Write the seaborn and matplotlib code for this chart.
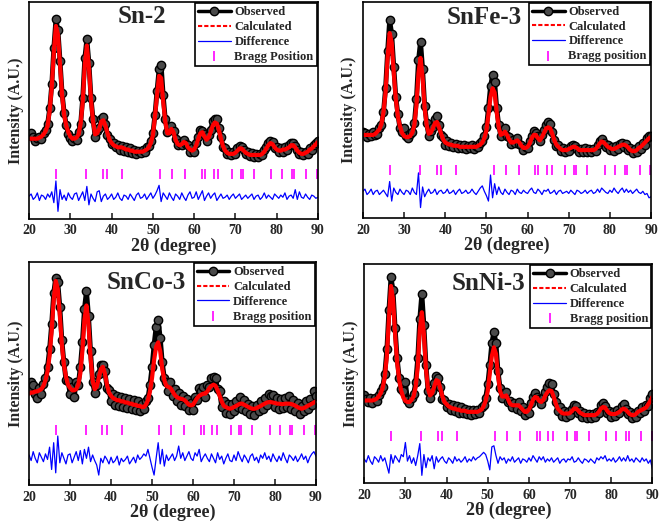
import numpy as np
import pandas as pd
import seaborn as sns
import matplotlib.pyplot as plt

# 2-theta sampling of the digitised patterns (degree)
two_theta = np.arange(20, 90.01, 0.5)

# Sn-2 (intensities in arbitrary units, 0-100 of the panel height)
sn2_obs = [38.5, 39.5, 38, 36, 37.5, 38, 37, 39.5, 41, 44,
           51, 62, 79, 92, 87, 73, 58, 49, 43.5, 39,
           37.5, 36, 37.5, 36.5, 40, 44, 56, 74, 83, 72,
           56, 46, 38, 40.5, 42, 46, 47, 44, 38.5, 37,
           34.5, 35, 33, 34, 32, 33.5, 31.5, 33, 31, 32.5,
           30.5, 32, 30, 31.5, 30.5, 32, 31, 33, 33.5, 36,
           39.5, 48, 59, 69, 71, 57, 46, 40, 41, 43,
           40.5, 37, 34, 35, 34, 36.5, 34.5, 34, 31, 32.5,
           31, 35, 38, 41, 40.5, 39, 36, 38.5, 41, 45,
           46, 46, 42, 38, 33, 32.5, 30, 31, 29.5, 31,
           30, 32.5, 33.5, 33, 32, 30, 31, 29, 30.5, 28.5,
           30, 28.5, 30, 29.5, 32, 33, 35, 36, 35.5, 32.5,
           33, 31, 32.5, 31, 33, 32, 34, 35, 35, 33.5,
           32, 30, 31, 29.5, 31, 30, 32.5, 32, 34, 35,
           36]
sn2_calc = [37, 37, 37, 37, 37, 37.5, 38, 39, 40.5, 43,
            50, 61, 77, 89, 85, 71, 57, 48, 43, 40,
            38, 37, 37, 37.5, 39, 44, 54, 71, 80, 70,
            55, 45, 39, 39.5, 41.5, 45, 45.5, 43, 39.5, 36.5,
            35, 34, 33.5, 33, 33, 33, 32.5, 32, 32, 31.5,
            31.5, 31, 31, 31, 31, 31, 31.5, 32, 33, 35,
            38.5, 47, 57, 66, 65, 54, 45, 39.5, 39.5, 41.5,
            40, 36.5, 34.5, 34, 34.5, 35.5, 35, 33, 32, 31.5,
            32, 34, 37, 39.5, 40, 38, 36.5, 37.5, 40, 43,
            44.5, 44, 41, 37, 33.5, 31.5, 30.5, 30, 30, 30,
            30.5, 31.5, 32.5, 32.5, 31.5, 30.5, 30, 29.5, 29.5, 29.5,
            29.5, 29.5, 29.5, 30, 31, 32.5, 34, 35, 34.5, 33,
            32, 31.5, 31.5, 32, 32, 32.5, 33, 34, 34, 33,
            31.5, 30.5, 30, 30, 30.5, 31, 32, 32.5, 33.5, 34.5,
            35.5]
sn2_diff = [10.5, 11.5, 9, 10, 12, 8.5, 11, 10.5, 9, 11.5,
            10, 12.5, 7.5, 17.5, 3.5, 13.5, 9, 11, 8.5, 12,
            10, 9, 11.5, 12, 8.5, 10.5, 12.5, 8.5, 15, 6.5,
            11.5, 9.5, 8, 12.5, 13, 8, 10.5, 11.5, 9, 10,
            11.5, 9, 10, 12, 9.5, 8.5, 11, 10.5, 9, 11.5,
            10, 8.5, 11, 12, 9.5, 10, 11.5, 9, 10.5, 12,
            9.5, 11, 13, 15.5, 8, 12, 10.5, 9, 12, 10,
            8.5, 11.5, 10.5, 9, 12, 10, 8.5, 11, 12.5, 9.5,
            10, 12.5, 9, 11, 13, 8.5, 10.5, 12, 9.5, 11,
            12, 8.5, 10, 11.5, 9.5, 10, 11, 9, 10.5, 11.5,
            9.5, 10.5, 11.5, 9, 10, 11, 9.5, 10.5, 11.5, 9,
            10.5, 11, 9, 10, 12, 9.5, 11, 10, 9, 11.5,
            10.5, 9.5, 11, 10, 12, 9, 10.5, 11, 9.5, 13.5,
            9, 12.5, 10, 9.5, 11.5, 10, 9, 11, 10.5, 9.5,
            10]

# SnFe-3
snfe3_obs = [40, 39.5, 37.5, 39, 38, 40, 38.5, 39, 41.5, 43,
             49, 60, 77, 91.5, 85, 70, 56, 48, 41.5, 40,
             41.5, 38, 37, 39, 40, 44, 55, 73, 81.5, 69,
             52, 44, 38, 40.5, 42, 46, 47, 43, 38.5, 37.5,
             34, 35.5, 33.5, 35, 33, 34.5, 32.5, 34, 32.5, 34,
             32, 33.5, 32.5, 34, 32, 33.5, 33, 35, 35.5, 38,
             42, 51, 61, 66, 63, 51, 43, 38, 40, 41.5,
             38, 37.5, 34.5, 36, 35, 37, 34.5, 34, 31.5, 33,
             32.5, 35.5, 38, 40.5, 39.5, 38, 35.5, 38.5, 41, 43,
             44.5, 43.5, 40, 36, 33.5, 34, 31, 32.5, 30.5, 32,
             31, 33.5, 34, 33.5, 32, 30.5, 32, 30.5, 32.5, 30.5,
             32, 30.5, 32, 31, 34, 35.5, 36.5, 35, 33, 34,
             31.5, 33, 31, 33.5, 32, 34.5, 35, 33, 34.5, 31.5,
             32.5, 30, 32, 30.5, 33.5, 32, 35, 34, 37, 38,
             38]
snfe3_calc = [38.5, 38.5, 38.5, 38.5, 38.5, 38.5, 39, 40, 41, 43.5,
              49, 58, 74, 85.5, 81, 67, 55, 47, 42.5, 39.5,
              38, 37.5, 37.5, 38, 39.5, 43, 52, 67, 74, 65,
              51, 43, 39, 39.5, 41.5, 44, 44.5, 42, 39, 36.5,
              35, 34.5, 34, 34, 33.5, 33.5, 33.5, 33, 33, 33,
              33, 33, 33, 33, 33, 33, 33.5, 34, 35, 37,
              40.5, 48, 56, 60, 58, 49, 42, 38.5, 39, 40,
              38.5, 36.5, 35, 35, 35.5, 36, 35, 33.5, 32.5, 32.5,
              33, 34.5, 37, 38.5, 38.5, 37, 36, 37.5, 39.5, 41.5,
              42, 41.5, 39, 36, 34, 33, 32, 31.5, 31.5, 31.5,
              32, 32.5, 33, 33, 32.5, 31.5, 31.5, 31.5, 31.5, 31.5,
              31.5, 31.5, 31.5, 32, 33, 34.5, 35.5, 35, 34, 33,
              32.5, 32, 32, 32.5, 33, 33.5, 34, 34, 33.5, 32.5,
              31.5, 31, 31, 31.5, 32.5, 33, 34, 35, 36, 37,
              37.5]
snfe3_diff = [12.5, 13.5, 11, 12, 13.5, 11, 12.5, 13, 11, 12,
              13, 11.5, 10, 17, 8, 14, 12, 11, 13.5, 12,
              11, 13, 12.5, 11, 14, 12, 11, 21, 5, 14.5,
              10, 12, 13.5, 11.5, 12, 13.5, 11, 12.5, 13, 11.5,
              12, 13.5, 11.5, 12, 13, 11, 12.5, 13.5, 11.5, 12,
              13, 11.5, 12, 13.5, 12, 11, 12.5, 14, 15, 12.5,
              10.5, 8, 20, 9.5, 16, 11, 14.5, 12, 11, 13.5,
              12, 11, 13, 12.5, 11, 13.5, 12, 11.5, 13, 12,
              11.5, 13, 14, 12, 11.5, 13.5, 12.5, 11, 13, 12.5,
              13.5, 11.5, 12, 13, 11, 12.5, 13, 11.5, 12, 12.5,
              11.5, 13, 12, 11, 13, 12.5, 11.5, 12, 13, 11.5,
              12.5, 13, 11.5, 12, 13.5, 12, 14, 13, 12, 11.5,
              13, 12, 14, 12.5, 11.5, 13, 14, 12, 13.5, 12,
              13, 11.5, 12.5, 13.5, 12, 11.5, 12.5, 11, 11.5, 9.5,
              10]

# SnCo-3
snco3_obs = [44, 46, 45, 41, 39, 43.5, 41, 45.5, 48, 53,
             61, 72, 86, 93, 91, 80, 65, 55, 47, 46.5,
             41, 44, 39.5, 46, 45, 53, 64, 79, 87, 76,
             60, 46, 41.5, 45, 50, 54, 54, 51, 43.5, 42.5,
             37.5, 41, 36, 40, 35.5, 39.5, 35, 39, 34.5, 38.5,
             34, 38, 33.5, 37.5, 33, 36.5, 34, 37.5, 39, 45,
             53, 63, 71, 74, 66, 55, 48, 46, 42, 46,
             40, 43, 37.5, 41.5, 36, 40, 35.5, 38.5, 33.5, 37,
             33.5, 39.5, 38, 43.5, 42, 44, 39.5, 45, 44, 48,
             48.5, 48, 43, 42, 35, 37.5, 32.5, 36.5, 32, 36.5,
             33, 37.5, 35, 39.5, 34, 38, 33, 36.5, 32, 35.5,
             31.5, 36, 33, 37.5, 34, 39, 36, 41, 40, 40.5,
             35, 39, 34, 38.5, 34.5, 39, 35, 40, 34, 38,
             33, 37, 32, 35.5, 33, 37.5, 34, 38.5, 36, 42,
             40]
snco3_calc = [41, 41.5, 41.5, 42, 42, 42.5, 43, 44.5, 47, 51,
              58, 69, 83, 91.5, 88, 76, 63, 54, 48.5, 45,
              43.5, 42.5, 42.5, 43, 45, 50, 60, 74, 80.5, 72,
              57, 47, 43, 44, 48, 52, 53, 50, 45, 41.5,
              40, 39, 38.5, 38, 38, 37.5, 37.5, 37, 37, 36.5,
              36.5, 36, 36, 35.5, 35.5, 35, 35, 36, 38, 42,
              48, 56, 62, 64, 60, 52, 47, 44.5, 44, 43.5,
              42, 40.5, 39.5, 39, 38.7, 38.5, 38, 37, 36, 35.7,
              36, 37.5, 39, 40, 40.5, 41, 41, 42, 43.5, 44.5,
              45, 44.5, 42.5, 40, 37.5, 35.5, 35, 34.5, 34.2, 34.5,
              35, 35.5, 36, 36.5, 36.5, 36, 35.5, 35, 34.5, 34.2,
              34.2, 34.5, 35, 35.5, 36, 36.5, 37, 37.2, 37.2, 37,
              36.8, 36.5, 36.5, 36.3, 36.3, 36.5, 36.5, 36.5, 36.3, 36,
              35.5, 35, 34.5, 34.2, 34.5, 35, 35.5, 36, 36.5, 37,
              37.5]
snco3_diff = [13.5, 11, 15, 12, 10, 14.5, 12.5, 10.5, 14, 11.5,
              17, 7, 19, 5.5, 22, 10, 14.5, 12, 9.5, 13.5,
              14, 10, 12.5, 15, 11, 15.5, 9.5, 16, 12, 17,
              10.5, 13.5, 11, 9, 4.5, 12, 10, 13, 11.5, 9.5,
              12.5, 10, 11, 13, 9, 12, 10.5, 11.5, 13, 9.5,
              11, 12.5, 10, 13.5, 11.5, 12.5, 14, 13, 16, 12,
              8, 4.5, 12, 19, 9.5, 16, 8.5, 13.5, 11, 12.5,
              14, 11, 13, 17.5, 12, 14.5, 11, 13, 15, 12,
              11, 14.5, 13, 16, 10.5, 12.5, 14, 12, 10.5, 14,
              12, 10, 14.5, 11.5, 13, 9.5, 12, 14, 11, 10.5,
              13.5, 11, 15, 12.5, 10.5, 13.5, 12, 10, 13, 14,
              11, 12.5, 10, 13.5, 12, 14.5, 11.5, 13, 10.5, 14,
              12, 10.5, 13, 11, 14.5, 12, 10, 13.5, 12.5, 11,
              13, 10.5, 12, 14, 11.5, 13, 10, 12.5, 14, 15,
              13]

# SnNi-3
snni3_obs = [40, 38.5, 37, 39, 36.5, 39, 37.5, 40, 42, 44,
             50, 61, 79, 94, 88, 71, 57, 48, 43, 42,
             46, 38, 36.5, 39, 40.5, 46, 57, 75, 86.5, 72,
             54, 42, 39, 42, 45.5, 49, 48, 44, 38.5, 38,
             34.5, 36, 33.5, 35.5, 33, 35, 32, 34.5, 32, 34,
             31.5, 33.5, 31, 33.5, 31.5, 33.5, 32, 34.5, 35.5, 39,
             45, 54, 64, 69, 64, 51, 43.5, 39, 41, 41.5,
             37, 37.5, 34.5, 36.5, 34, 37, 33, 34.5, 31, 33,
             32, 36.5, 39.5, 41, 39.5, 38.5, 36, 39, 41.5, 44,
             45.5, 45, 40.5, 37, 33, 34.5, 30.5, 33, 30, 32.5,
             31, 34, 35.5, 35, 32, 33, 30, 32, 29.5, 31.5,
             29.5, 31.5, 30, 32.5, 32, 35.5, 36.5, 35, 32, 33,
             30, 32.5, 30.5, 33.5, 32, 35, 36, 34, 31.5, 32.5,
             29.5, 31.5, 30, 33, 32, 34.5, 33, 35.5, 35, 39,
             40.5]
snni3_calc = [37.7, 37.7, 37.7, 37.7, 37.7, 38, 38.5, 39.5, 41, 43.5,
              48.5, 58, 75, 90, 84, 68, 55, 47, 42, 39,
              37.5, 37, 37, 38, 39.5, 44, 53, 70, 78, 68,
              52, 43, 40, 41, 44, 47, 46.5, 43, 39.5, 37,
              36, 35, 34.5, 34, 34, 33.5, 33.5, 33, 33, 33,
              32.5, 32.5, 32.5, 32.5, 32.5, 32.5, 33, 33.5, 35, 37.5,
              42, 50, 58, 62, 59, 49, 42, 39.5, 39.5, 40,
              38, 36, 35.5, 35.5, 35.5, 35.5, 34.5, 33.5, 32.5, 32.5,
              33.5, 35.5, 38, 39.3, 39, 37.5, 37, 38, 40, 41.5,
              42.3, 42, 39.5, 36.5, 34, 33, 32, 31.7, 31.7, 31.7,
              32, 33, 34, 34, 33, 32, 31.5, 31, 31, 31,
              31, 31, 31, 31.5, 32.5, 34, 34.7, 34.5, 33, 32,
              31.5, 31.5, 31.5, 32, 32.5, 33.5, 34, 33.5, 32.5, 31.5,
              31, 31, 31.5, 32.5, 33, 33.5, 34, 34.5, 36, 37.5,
              39.3]
snni3_diff = [11, 9.5, 12.5, 10, 8.5, 12, 11, 9.5, 12.5, 10,
              11.5, 8, 4.5, 13, 9, 12.5, 11, 9.5, 13, 12,
              18.5, 10, 12.5, 9, 11.5, 8, 12.5, 18, 3.5, 13,
              7, 11.5, 10, 12.5, 6.5, 12, 9.5, 11, 12, 10,
              9, 11.5, 10.5, 9, 12, 10, 11, 9.5, 10.5, 12,
              9.5, 11, 10, 12, 10.5, 11.5, 12, 13, 14, 13,
              10, 6, 16.5, 17, 12.5, 9, 12, 10.5, 11.5, 9,
              11, 10, 12, 9.5, 10.5, 11.5, 9, 11, 10.5, 9.5,
              11.5, 10, 12.5, 11, 9.5, 12, 10.5, 12, 9.5, 11,
              10, 11.5, 9.5, 10.5, 11.5, 9, 10.5, 11, 9.5, 11,
              10.5, 12, 9.5, 10, 11.5, 10, 9, 11, 10.5, 9.5,
              11, 10, 9, 11.5, 10.5, 12, 11, 12.5, 10, 11,
              10, 11.5, 9.5, 10.5, 12, 10, 11.5, 10, 12.5, 10,
              11, 9.5, 11.5, 10.5, 9.5, 11.5, 10, 11, 9, 10.5,
              6.5]

# Bragg reflections of cassiterite SnO2 (degree)
bragg_peaks = [26.6, 33.9, 37.9, 38.9, 42.6, 51.8, 54.7, 57.8, 61.9, 62.6,
               64.7, 65.9, 69.2, 71.3, 71.8, 74.5, 78.7, 81.2, 83.7, 84.2,
               87.2, 89.8]

sample_names = ['Sn-2', 'SnFe-3', 'SnCo-3', 'SnNi-3']
bragg_labels = ['Bragg Position', 'Bragg position', 'Bragg position', 'Bragg position']
observed = [sn2_obs, snfe3_obs, snco3_obs, snni3_obs]
calculated = [sn2_calc, snfe3_calc, snco3_calc, snni3_calc]
difference = [sn2_diff, snfe3_diff, snco3_diff, snni3_diff]
bragg_level = [20.5, 22.3, 24.5, 21.5]

sns.set_style('ticks')
plt.rcParams['font.family'] = ['Liberation Serif', 'DejaVu Serif']
plt.rcParams['font.weight'] = 'bold'
plt.rcParams['axes.labelweight'] = 'bold'

fig = plt.figure(figsize=(6.61, 5.25), dpi=100)
rects = [(0.044, 0.583, 0.437, 0.413), (0.549, 0.584, 0.436, 0.413),
         (0.044, 0.076, 0.434, 0.425), (0.551, 0.080, 0.436, 0.417)]
title_pos = [(0.39, 0.935), (0.42, 0.925), (0.41, 0.91), (0.43, 0.91)]

for i in range(4):
    ax = fig.add_axes(rects[i])
    df = pd.DataFrame({'two_theta': two_theta, 'obs': observed[i],
                       'calc': calculated[i], 'diff': difference[i]})

    sns.lineplot(data=df, x='two_theta', y='obs', ax=ax, color='black', lw=3.5,
                 marker='o', ms=6, mfc='#4a4a4a', mec='black', mew=1.0,
                 label='Observed')
    sns.lineplot(data=df, x='two_theta', y='calc', ax=ax, color='#ff0000', lw=3.0,
                 label='Calculated')
    sns.lineplot(data=df, x='two_theta', y='diff', ax=ax, color='#0000ff', lw=0.9,
                 label='Difference')
    sns.scatterplot(x=bragg_peaks, y=[bragg_level[i]] * len(bragg_peaks), ax=ax,
                    marker='|', s=45, color='#ff00ff', linewidth=1.2,
                    label=bragg_labels[i])

    ax.set_xlim(20, 90)
    ax.set_ylim(0, 100)
    ax.set_xticks(range(20, 91, 10))
    ax.set_yticks([])
    ax.tick_params(axis='x', direction='in', length=4, width=1.2, labelsize=10, pad=4)
    for sp in ax.spines.values():
        sp.set_linewidth(1.2)
        sp.set_color('black')
    ax.set_xlabel('2θ (degree)', fontsize=13, labelpad=0)
    ax.set_ylabel('Intensity (A.U.)', fontsize=11.5, labelpad=4)

    tx, ty = title_pos[i]
    ax.text(tx, ty, sample_names[i], transform=ax.transAxes, ha='center', va='center',
            fontsize=18, fontweight='bold')

    leg = ax.legend(loc='upper right', frameon=True, fancybox=False, edgecolor='black',
                    framealpha=1, borderaxespad=0.1, borderpad=0.25, labelspacing=0.22,
                    handlelength=2.6, handletextpad=0.3,
                    prop={'family': 'Liberation Serif', 'weight': 'bold', 'size': 9})
    leg.get_frame().set_linewidth(1.2)
    handles = leg.get_lines()
    handles[0].set_linewidth(2.5)
    handles[1].set_linewidth(1.5)
    handles[1].set_linestyle((0, (2, 1)))

fig.savefig('out.png', dpi=100)
